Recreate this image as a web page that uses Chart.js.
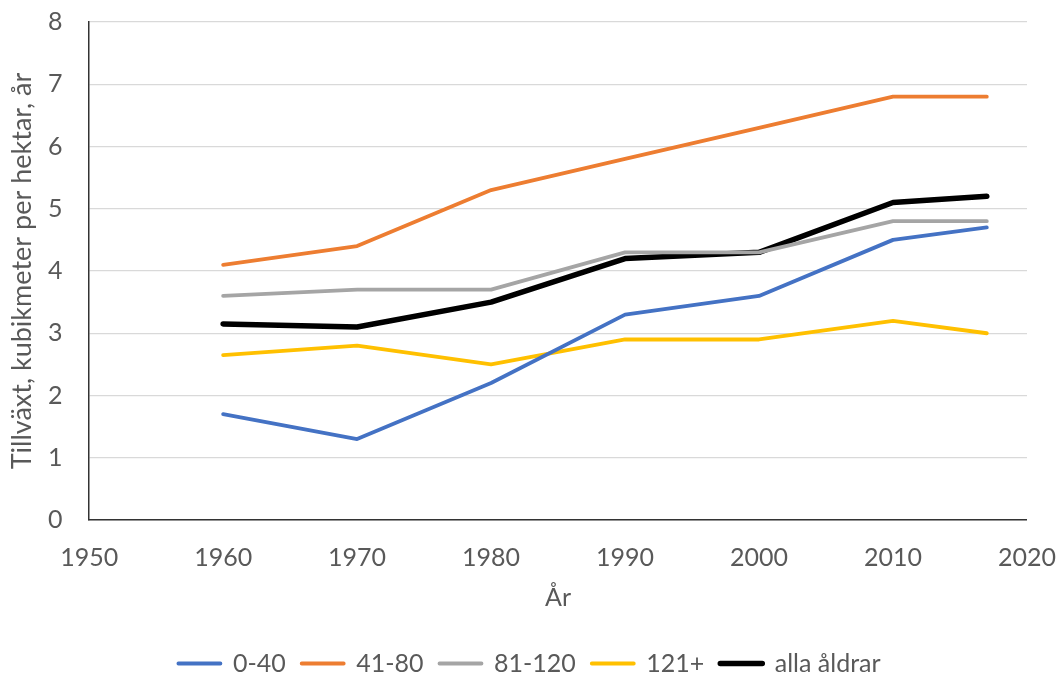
<!DOCTYPE html>
<html lang="sv">
<head>
    <meta charset="UTF-8">
    <title>Tillväxt per åldersklass</title>
    <script src="https://cdn.jsdelivr.net/npm/chart.js"></script>
    <style>
        html, body { margin: 0; padding: 0; background: #fff; overflow: hidden; }
        #chart-container { position: relative; width: 1059px; height: 686px; }
    </style>
</head>
<body>

    <div id="chart-container">
        <canvas id="growthChart"></canvas>
    </div>

    <script>
        // data
        const years = [1960, 1970, 1980, 1990, 2000, 2010, 2017];
        const seriesNames = ['0-40', '41-80', '81-120', '121+', 'alla åldrar'];
        const age0to40 = [1.7, 1.3, 2.2, 3.3, 3.6, 4.5, 4.7];
        const age41to80 = [4.1, 4.4, 5.3, 5.8, 6.3, 6.8, 6.8];
        const age81to120 = [3.6, 3.7, 3.7, 4.3, 4.3, 4.8, 4.8];
        const age121plus = [2.65, 2.8, 2.5, 2.9, 2.9, 3.2, 3.0];
        const allAges = [3.15, 3.1, 3.5, 4.2, 4.3, 5.1, 5.2];
        const xTicks = [1950, 1960, 1970, 1980, 1990, 2000, 2010, 2020];
        const yTicks = [0, 1, 2, 3, 4, 5, 6, 7, 8];

        const colors = ['#4472C4', '#ED7D31', '#A5A5A5', '#FFC000', '#000000'];
        const widths = [3.8, 3.8, 3.8, 3.8, 5.5];
        const textColor = '#595959';
        const fontFamily = 'Lato, "Open Sans", sans-serif';

        function toPoints(values) {
            return values.map((v, i) => ({ x: years[i], y: v }));
        }

        const allSeries = [age0to40, age41to80, age81to120, age121plus, allAges];
        const datasets = allSeries.map((values, i) => ({
            label: seriesNames[i],
            data: toPoints(values),
            borderColor: colors[i],
            backgroundColor: colors[i],
            borderWidth: widths[i],
            borderCapStyle: 'round',
            borderJoinStyle: 'round',
            pointRadius: 0,
            pointHoverRadius: 0,
            tension: 0,
            fill: false
        }));

        const ctx = document.getElementById('growthChart').getContext('2d');
        new Chart(ctx, {
            type: 'line',
            data: { datasets: datasets },
            options: {
                responsive: true,
                maintainAspectRatio: false,
                animation: false,
                layout: { padding: { top: 22, left: 0, right: 0, bottom: 0 } },
                plugins: {
                    tooltip: { enabled: false },
                    legend: {
                        position: 'bottom',
                        labels: {
                            boxWidth: 42,
                            boxHeight: 0,
                            padding: 16,
                            color: textColor,
                            font: { family: fontFamily, size: 25 }
                        }
                    }
                },
                scales: {
                    x: {
                        type: 'linear',
                        min: 1950,
                        max: 2020,
                        afterBuildTicks: (scale) => { scale.ticks = xTicks.map(v => ({ value: v })); },
                        ticks: {
                            color: textColor,
                            padding: 3,
                            // tall line box pushes the labels down without widening the side padding
                            font: { family: fontFamily, size: 25, lineHeight: 2.8 },
                            callback: (v) => String(v)
                        },
                        grid: { display: false, drawTicks: false },
                        border: { display: true, color: '#333333', width: 1.5 },
                        title: {
                            display: true,
                            text: 'År',
                            color: textColor,
                            padding: { top: -13, bottom: 22 },
                            font: { family: fontFamily, size: 25 }
                        }
                    },
                    y: {
                        min: 0,
                        max: 8,
                        afterBuildTicks: (scale) => { scale.ticks = yTicks.map(v => ({ value: v })); },
                        ticks: {
                            color: textColor,
                            padding: 8,
                            font: { family: fontFamily, size: 25, lineHeight: 1.1 },
                            callback: (v) => v + '\u2003'
                        },
                        grid: { color: '#D9D9D9', lineWidth: 1.3, drawTicks: false },
                        border: { display: true, color: '#333333', width: 1.5 },
                        title: {
                            display: true,
                            text: 'Tillväxt, kubikmeter per hektar, år',
                            color: textColor,
                            padding: { top: 6.5, bottom: 1 },
                            font: { family: fontFamily, size: 27 }
                        }
                    }
                }
            }
        });
    </script>

</body>
</html>
